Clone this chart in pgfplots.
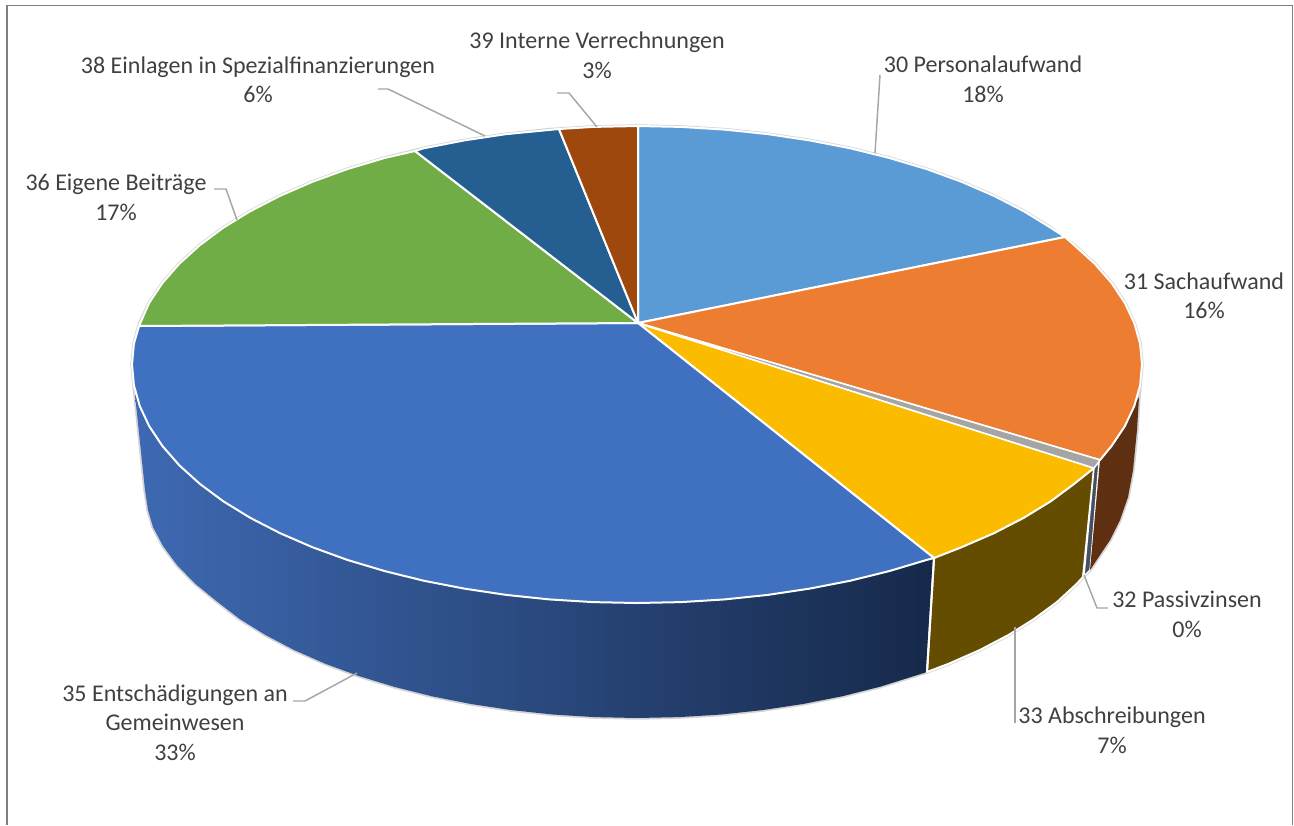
\documentclass[border=0pt]{standalone}
\usepackage{pgfplots}
\pgfplotsset{compat=1.18}
\usepackage{fontspec}
\setmainfont{Carlito}
\definecolor{c30}{HTML}{5B9BD5}
\definecolor{c31}{HTML}{ED7D31}
\definecolor{c32}{HTML}{A5A5A5}
\definecolor{c33}{HTML}{FBBC00}
\definecolor{c35}{HTML}{4070C0}
\definecolor{c36}{HTML}{70AD47}
\definecolor{c38}{HTML}{255E91}
\definecolor{c39}{HTML}{9E480E}
\definecolor{s33}{HTML}{644D00}
\definecolor{s31}{HTML}{5E2F10}
\definecolor{s32}{HTML}{44505F}
\definecolor{sbL}{HTML}{3E69B2}
\definecolor{sbR}{HTML}{16294A}
\definecolor{lead}{HTML}{A6A6A6}
\definecolor{txt}{HTML}{404040}
\definecolor{sil}{HTML}{D4D4D4}
\pgfplotsset{
  slice/.style={draw=white,line width=1.5pt,line join=round,no marks},
  leader/.style={draw=lead,line width=1.1pt,line join=round,no marks},
}
\newcommand{\lab}[3]{\node[anchor=base,text=txt,font=\fontsize{18pt}{20pt}\selectfont,inner sep=0pt] at (axis cs:#1,#2) {#3};}
\begin{document}
\begin{tikzpicture}
\begin{axis}[
  scale only axis,width=970.5pt,height=618.75pt,
  xmin=0,xmax=1294,ymin=0,ymax=825,y dir=reverse,
  hide axis,
]
% page extent
\addplot[draw=none,no marks] coordinates {(0,0)(1294,0)(1294,825)(0,825)} --cycle;
% chart frame
\addplot[draw=black!50,line width=1.1pt,no marks] coordinates {(7,825)(7,5.5)(1292.5,5.5)(1292.5,825)};
% silhouette
\addplot[draw=sil,line width=2.6pt,line join=round,no marks] coordinates {
(135,395)(133.9,385.3)(132,364.5)(133.9,343.7)(139.7,323.1)(149.2,302.8)(162.5,282.9)(179.3,263.7)(199.7,245.25)(223.3,227.7)(250.2,211.2)(279.9,195.9)(312.4,181.8)(347.3,169.1)(384.5,158)(423.6,148.3)(464.3,140.4)(506.3,134.1)(549.3,129.6)(593,126.9)(637,126)(681,126.9)(724.7,129.6)(767.7,134.1)(809.7,140.4)(850.4,148.3)(889.5,158)(926.7,169.1)(961.6,181.8)(994.1,195.9)(1023.8,211.2)(1050.7,227.7)(1074.3,245.25)(1094.7,263.7)(1111.5,282.9)(1124.8,302.8)(1134.3,323.1)(1140.1,343.7)(1142,364.5)(1140.1,385.3)(1139,397)
(1137,430)(1133,470)(1128,497)(1120,520)(1110,540)(1090,570)(1083,577)(1076.6,584)(1057,602)(1034,619)(1008.5,635)(979.9,650)(948.8,663.7)(927,672)(879.5,686.9)(842,696.3)(802.9,704)(762.5,710.1)(721.2,714.5)(679.3,717.1)(637,718)(594.7,717.1)(552.8,714.5)(511.5,710.1)(471.1,704)(432,696.3)(394.5,686.9)(358.8,676)(325.2,663.7)(294.1,650)(265.5,635)(239.7,619)(217,601.5)(195,583.5)(177,565)(163,546)(153,527)(148,510)(145,490)(135,395)
} --cycle;
% side walls
\addplot[draw=none,left color=sbL,right color=sbR,no marks] coordinates {
(135,395)(934,558)(927,672)(879.5,686.9)(842,696.3)(802.9,704)(762.5,710.1)(721.2,714.5)(679.3,717.1)(637,718)(594.7,717.1)(552.8,714.5)(511.5,710.1)(471.1,704)(432,696.3)(394.5,686.9)(358.8,676)(325.2,663.7)(294.1,650)(265.5,635)(239.7,619)(217,601.5)(195,583.5)(177,565)(163,546)(153,527)(148,510)(145,490)
} --cycle;
\addplot[slice,fill=s33] coordinates {
(934,558)(1094,468)(1083,577)(1076.6,584)(1057,602)(1034,619)(1008.5,635)(979.9,650)(948.8,663.7)(927,672)
} --cycle;
\addplot[draw=white,line width=1pt,fill=s32,no marks] coordinates {(1094,468)(1099,462)(1090,570)(1084,576)} --cycle;
\addplot[draw=none,fill=s31,no marks] coordinates {
(1100,460)(1139,397)(1137,430)(1133,470)(1128,497)(1120,520)(1110,540)(1090,570)
} --cycle;
\addplot[draw=white,line width=1.5pt,no marks] coordinates {(927,672)(934,558)};
% top face
\addplot[slice,fill=c30] coordinates {
(638,323)(638,126)(681,126.9)(724.7,129.6)(767.7,134.1)(809.7,140.4)(850.4,148.3)(889.5,158)(926.7,169.1)(961.6,181.8)(994.1,195.9)(1023.8,211.2)(1050.7,227.7)(1065,237)
} --cycle;
\addplot[slice,fill=c31] coordinates {
(638,323)(1065,237)(1074.3,245.25)(1094.7,263.7)(1111.5,282.9)(1124.8,302.8)(1134.3,323.1)(1140.1,343.7)(1142,364.5)(1140.1,385.3)(1134.3,405.9)(1124.8,426.2)(1111.5,446.1)(1100,460)
} --cycle;
\addplot[slice,fill=c33] coordinates {
(638,323)(1094,468)(1074.3,483.75)(1050.7,501.3)(1023.8,517.8)(994.1,533.1)(961.6,547.2)(934,558)
} --cycle;
\addplot[draw=white,line width=1pt,fill=c32,no marks] coordinates {(638,323)(1100,460)(1094,468)} --cycle;
\addplot[slice,fill=c35] coordinates {
(638,323)(934,558)(926.7,559.9)(889.5,571)(850.4,580.7)(809.7,588.6)(767.7,594.9)(724.7,599.4)(681,602.1)(637,603)(593,602.1)(549.3,599.4)(506.3,594.9)(464.3,588.6)(423.6,580.7)(384.5,571)(347.3,559.9)(312.4,547.2)(279.9,533.1)(250.2,517.8)(223.3,501.3)(199.7,483.75)(179.3,465.3)(162.5,446.1)(149.2,426.2)(139.7,405.9)(133.9,385.3)(132,364.5)(133.9,343.7)(139,326)
} --cycle;
\addplot[slice,fill=c36] coordinates {
(638,323)(139,326)(149.2,302.8)(162.5,282.9)(179.3,263.7)(199.7,245.25)(223.3,227.7)(250.2,211.2)(279.9,195.9)(312.4,181.8)(347.3,169.1)(384.5,158)(415,151)
} --cycle;
\addplot[slice,fill=c38] coordinates {
(638,323)(415,151)(423.6,148.3)(464.3,140.4)(506.3,134.1)(559,129)
} --cycle;
\addplot[slice,fill=c39] coordinates {
(638,323)(559,129)(593,126.9)(638,126)
} --cycle;
% leader lines
\addplot[leader] coordinates {(880,75)(875,153)};
\addplot[leader] coordinates {(1084,575)(1097,608)(1108,608)};
\addplot[leader] coordinates {(1015,627)(1015,723)};
\addplot[leader] coordinates {(357,673)(305,701)(293,701)};
\addplot[leader] coordinates {(214,189)(226,189)(237,220)};
\addplot[leader] coordinates {(378,89)(388,89)(485,136)};
\addplot[leader] coordinates {(557,93)(569,93)(597,127)};
% labels
\lab{597}{48}{39 Interne Verrechnungen}
\lab{597}{78}{3\%}
\lab{258}{73}{38 Einlagen in Spezialfinanzierungen}
\lab{258}{102}{6\%}
\lab{983}{72}{30 Personalaufwand}
\lab{983}{102}{18\%}
\lab{1204}{289}{31 Sachaufwand}
\lab{1204}{318}{16\%}
\lab{1187}{607}{32 Passivzinsen}
\lab{1187}{637}{0\%}
\lab{1112}{723}{33 Abschreibungen}
\lab{1112}{753}{7\%}
\lab{175}{701}{35 Entschädigungen an}
\lab{175}{730}{Gemeinwesen}
\lab{175}{760}{33\%}
\lab{116}{190}{36 Eigene Beiträge}
\lab{116}{220}{17\%}
\end{axis}
\end{tikzpicture}
\end{document}
